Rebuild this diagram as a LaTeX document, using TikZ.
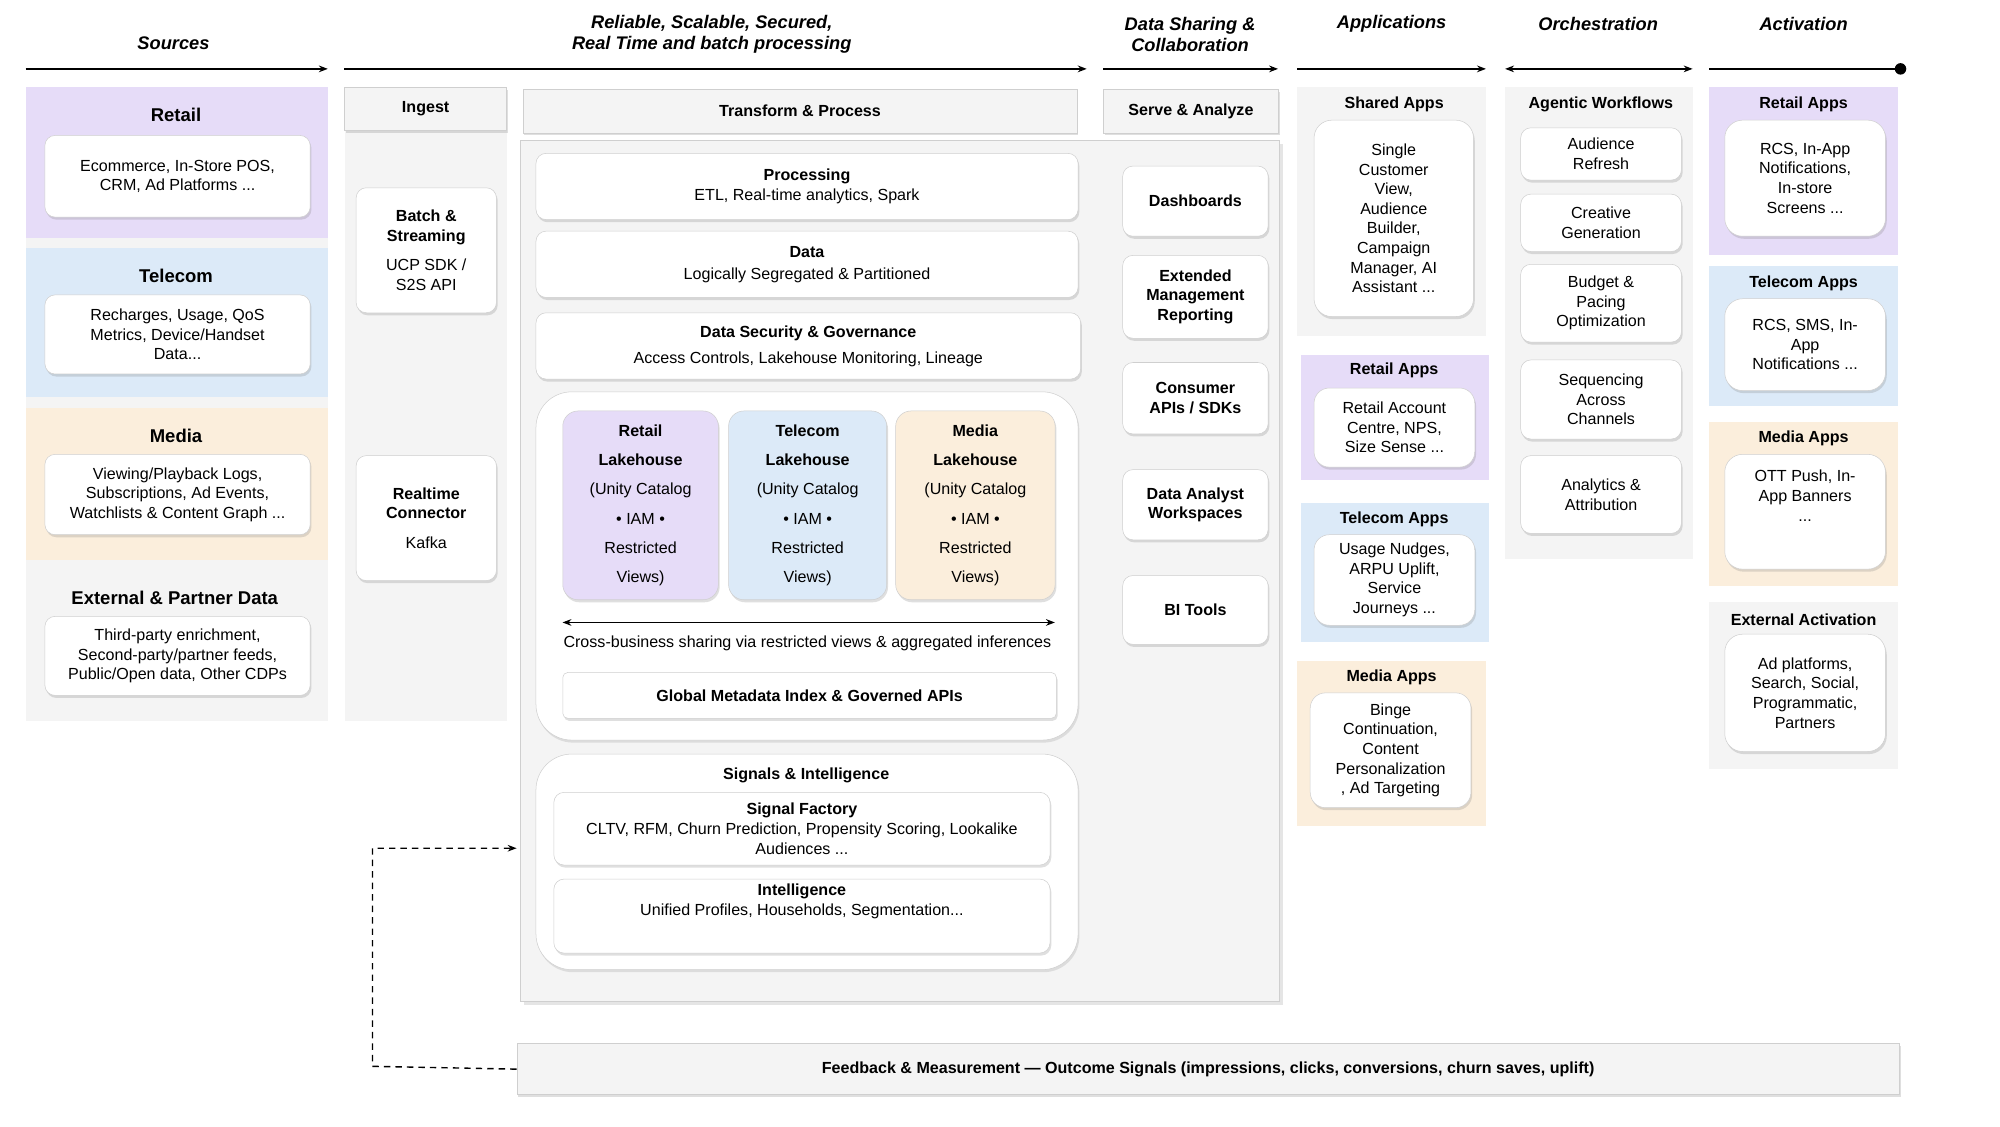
\documentclass[tikz,border=0pt]{standalone}
\usepackage{fontspec}
\setmainfont{Liberation Sans}
\usetikzlibrary{shadows,arrows.meta}
\definecolor{pu}{HTML}{E6DCF8}
\definecolor{bl}{HTML}{DCEAF8}
\definecolor{or}{HTML}{FBEEDC}
\definecolor{gr}{HTML}{F4F4F4}
\definecolor{bd}{HTML}{CFCFCF}
\newcommand\BX[6]{\node[#1,anchor=north west,minimum width={(#4-#2)*1pt},minimum height={(#5-#3)*1pt}] (#6) at (#2,#3)}
\tikzset{
 panel/.style={fill=gr,draw=none,inner sep=0},
 ppu/.style={fill=pu,draw=none,inner sep=0},
 pbl/.style={fill=bl,draw=none,inner sep=0},
 por/.style={fill=or,draw=none,inner sep=0},
 card/.style={fill=white,draw=bd,rounded corners=8pt,inner sep=1pt,align=center,font=\fontsize{12.6}{15.4}\selectfont,drop shadow={opacity=0.25,shadow xshift=1pt,shadow yshift=-2pt}},
 bcard/.style={card,font=\bfseries\fontsize{12.6}{15.4}\selectfont},
 hdr/.style={fill=gr,draw=bd,inner sep=2pt,font=\bfseries\fontsize{12.6}{15}\selectfont,drop shadow={opacity=0.25,shadow xshift=1pt,shadow yshift=-2pt}},
 ttl/.style={font=\bfseries\fontsize{14.5}{16}\selectfont},
 sttl/.style={font=\bfseries\fontsize{12.6}{15}\selectfont},
 col/.style={font=\bfseries\itshape\fontsize{14.3}{17}\selectfont,align=center},
 lake/.style={draw=bd,rounded corners=12pt,inner sep=1pt,align=center,font=\fontsize{12.6}{23}\selectfont,drop shadow={opacity=0.25,shadow xshift=1pt,shadow yshift=-2pt}},
 cont/.style={fill=white,draw=bd,rounded corners=28pt,drop shadow={opacity=0.2,shadow xshift=1pt,shadow yshift=-2pt}},
 ar/.style={-{Stealth[length=7pt]},line width=1.2pt},
}
\begin{document}
\begin{tikzpicture}[x=1pt,y=-1pt]
\useasboundingbox[fill=white] (0,0) rectangle (1568,883);
% column headers
\node[col] (h1) at (136,34) {Sources};
\node[col] (h2) at (558,27) {Reliable, Scalable, Secured,\\Real Time and batch processing};
\node[col] (h3) at (933,27) {Data Sharing \&\\Collaboration};
\node[col] (h4) at (1091,19) {Applications};
\node[col] (h5) at (1253,19) {Orchestration};
\node[col] (h6) at (1414,19) {Activation};
\coordinate (a1) at (20,54); \coordinate (b1) at (257,54);
\coordinate (a2) at (270,54); \coordinate (b2) at (852,54);
\coordinate (a3) at (865,54); \coordinate (b3) at (1002,54);
\coordinate (a4) at (1017,54); \coordinate (b4) at (1165,54);
\coordinate (a5) at (1180,54); \coordinate (b5) at (1327,54);
\coordinate (a6) at (1340,54); \coordinate (b6) at (1490,54);
\draw[ar] (a1)--(b1); \draw[ar] (a2)--(b2); \draw[ar] (a3)--(b3); \draw[ar] (a4)--(b4);
\draw[ar,{Stealth[length=7pt]}-{Stealth[length=7pt]}] (a5)--(b5);
\draw[line width=1.2pt] (a6)--(b6); \fill (b6) circle (4.5pt);
% Sources
\BX{panel}{20}{68}{257}{565}{srcp} {};
\BX{ppu}{20}{68}{257}{186}{sr} {};
\node[ttl] (srt) at (138,90) {Retail};
\BX{card}{35}{106}{243}{170}{src1} {Ecommerce, In-Store POS,\\CRM, Ad Platforms ...};
\BX{pbl}{20}{194}{257}{311}{st} {};
\node[ttl] (stt) at (138,216) {Telecom};
\BX{card}{35}{231}{243}{293}{src2} {Recharges, Usage, QoS\\Metrics, Device/Handset\\Data...};
\BX{por}{20}{320}{257}{439}{sm} {};
\node[ttl] (smt) at (138,342) {Media};
\BX{card}{35}{356}{243}{419}{src3} {Viewing/Playback Logs,\\Subscriptions, Ad Events,\\Watchlists \& Content Graph ...};
\node[ttl] (set) at (137,469) {External \& Partner Data};
\BX{card}{35}{483}{243}{545}{src4} {Third-party enrichment,\\Second-party/partner feeds,\\Public/Open data, Other CDPs};
% Ingest
\BX{panel}{270}{68}{397}{565}{ingp} {};
\BX{hdr}{270}{68}{397}{102}{ingh} {Ingest};
\BX{card}{279}{147}{389}{245}{batch} {\textbf{Batch \&}\\\textbf{Streaming}\\[8pt]UCP SDK /\\S2S API};
\BX{card}{279}{357}{389}{455}{rt} {\textbf{Realtime}\\\textbf{Connector}\\[8pt]Kafka};
% Transform
\BX{panel,draw=bd,drop shadow={opacity=0.2}}{408}{110}{1003}{785}{tp} {};
\BX{hdr}{410}{70}{844}{104}{th} {Transform \& Process};
\BX{card}{420}{120}{845}{172}{proc} {\textbf{Processing}\\ETL, Real-time analytics, Spark};
\BX{card}{420}{181}{845}{233}{data} {\textbf{Data}\\[2pt]Logically Segregated \& Partitioned};
\BX{card}{420}{245}{847}{297}{sec} {\textbf{Data Security \& Governance}\\[5pt]Access Controls, Lakehouse Monitoring, Lineage};
\BX{cont}{420}{307}{845}{580}{lc} {};
\BX{lake,fill=pu}{441}{322}{563}{470}{l1} {\textbf{Retail}\\\textbf{Lakehouse}\\(Unity Catalog\\• IAM •\\Restricted\\Views)};
\BX{lake,fill=bl}{571}{322}{695}{470}{l2} {\textbf{Telecom}\\\textbf{Lakehouse}\\(Unity Catalog\\• IAM •\\Restricted\\Views)};
\BX{lake,fill=or}{702}{322}{827}{470}{l3} {\textbf{Media}\\\textbf{Lakehouse}\\(Unity Catalog\\• IAM •\\Restricted\\Views)};
\coordinate (sh1) at (441,488); \coordinate (sh2) at (827,488);
\draw[{Stealth[length=7pt]}-{Stealth[length=7pt]},line width=0.8pt] (sh1)--(sh2);
\node[font=\fontsize{12.6}{15}\selectfont] (sht) at (633,504) {Cross-business sharing via restricted views \& aggregated inferences};
\BX{card,rounded corners=4pt}{441}{527}{828}{563}{gm} {\textbf{Global Metadata Index \& Governed APIs}};
\BX{cont}{420}{591}{845}{760}{sc} {};
\node[sttl] (sct) at (632,608) {Signals \& Intelligence};
\BX{card}{434}{621}{823}{678}{sf} {\textbf{Signal Factory}\\CLTV, RFM, Churn Prediction, Propensity Scoring, Lookalike\\Audiences ...};
\BX{card}{434}{689}{823}{747}{intel} {\textbf{Intelligence}\\Unified Profiles, Households, Segmentation...\\[10pt]};
% Serve
\BX{hdr}{865}{70}{1002}{104}{sh} {Serve \& Analyze};
\BX{bcard}{880}{130}{994}{185}{d1} {Dashboards};
\BX{bcard}{880}{200}{994}{265}{d2} {Extended\\Management\\Reporting};
\BX{bcard}{880}{284}{994}{340}{d3} {Consumer\\APIs / SDKs};
\BX{bcard}{880}{368}{994}{423}{d4} {Data Analyst\\Workspaces};
\BX{bcard}{880}{451}{994}{505}{d5} {BI Tools};
% Applications
\BX{panel}{1017}{68}{1165}{263}{ap1} {};
\node[sttl] (ap1t) at (1093,82) {Shared Apps};
\BX{card,rounded corners=14pt}{1030}{94}{1155}{248}{ap1c} {Single\\Customer\\View,\\Audience\\Builder,\\Campaign\\Manager, AI\\Assistant ...};
\BX{ppu}{1020}{278}{1167}{376}{ap2} {};
\node[sttl] (ap2t) at (1093,290) {Retail Apps};
\BX{card,rounded corners=12pt}{1030}{304}{1156}{366}{ap2c} {Retail Account\\Centre, NPS,\\Size Sense ...};
\BX{pbl}{1020}{394}{1167}{503}{ap3} {};
\node[sttl] (ap3t) at (1093,407) {Telecom Apps};
\BX{card,rounded corners=12pt}{1030}{419}{1156}{490}{ap3c} {Usage Nudges,\\ARPU Uplift,\\Service\\Journeys ...};
\BX{por}{1017}{518}{1165}{647}{ap4} {};
\node[sttl] (ap4t) at (1091,531) {Media Apps};
\BX{card,rounded corners=12pt}{1027}{543}{1153}{633}{ap4c} {Binge\\Continuation,\\Content\\Personalization\\, Ad Targeting};
% Orchestration
\BX{panel}{1180}{68}{1327}{438}{orp} {};
\node[sttl] (ort) at (1255,82) {Agentic Workflows};
\BX{card}{1192}{100}{1318}{141}{o1} {Audience\\Refresh};
\BX{card}{1192}{152}{1318}{197}{o2} {Creative\\Generation};
\BX{card}{1192}{207}{1318}{268}{o3} {Budget \&\\Pacing\\Optimization};
\BX{card}{1192}{282}{1318}{344}{o4} {Sequencing\\Across\\Channels};
\BX{card}{1192}{357}{1318}{418}{o5} {Analytics \&\\Attribution};
% Activation
\BX{ppu}{1340}{68}{1488}{200}{ac1} {};
\node[sttl] (ac1t) at (1414,82) {Retail Apps};
\BX{card,rounded corners=14pt}{1352}{94}{1478}{185}{ac1c} {RCS, In-App\\Notifications,\\In-store\\Screens ...};
\BX{pbl}{1340}{208}{1488}{318}{ac2} {};
\node[sttl] (ac2t) at (1414,222) {Telecom Apps};
\BX{card,rounded corners=14pt}{1352}{234}{1478}{306}{ac2c} {RCS, SMS, In-\\App\\Notifications ...};
\BX{por}{1340}{331}{1488}{459}{ac3} {};
\node[sttl] (ac3t) at (1414,344) {Media Apps};
\BX{card,rounded corners=14pt}{1352}{356}{1478}{446}{ac3c} {OTT Push, In-\\App Banners\\...\\[10pt]};
\BX{panel}{1340}{472}{1488}{603}{ac4} {};
\node[sttl] (ac4t) at (1414,486) {External Activation};
\BX{card,rounded corners=14pt}{1352}{497}{1478}{589}{ac4c} {Ad platforms,\\Search, Social,\\Programmatic,\\Partners};
% Feedback
\BX{hdr}{405}{818}{1489}{858}{fb} {Feedback \& Measurement — Outcome Signals (impressions, clicks, conversions, churn saves, uplift)};
\coordinate (fa) at (292,665); \coordinate (fc) at (292,836);
\draw[dash pattern=on 5pt off 4pt,line width=1.1pt,-{Stealth[length=7pt]}] (fb.west) -- (fc) -- (fa) -- (405,665);
\end{tikzpicture}
\end{document}
